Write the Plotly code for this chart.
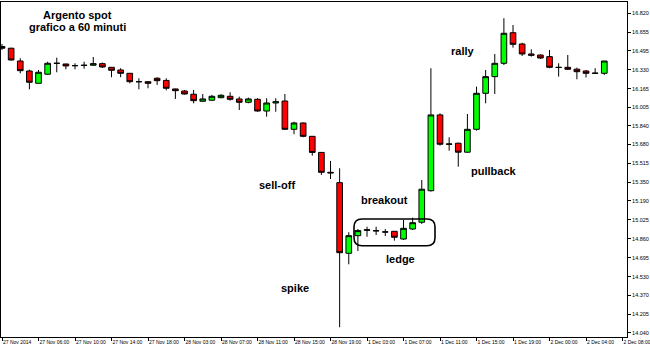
import plotly.graph_objects as go

# ---- data ----
bars = list(range(67))
opens = [16.531, 16.516, 16.405, 16.318, 16.211, 16.290, 16.385, 16.379, 16.364, 16.366,
         16.368, 16.382, 16.350, 16.327, 16.298, 16.225, 16.225, 16.255, 16.236, 16.162,
         16.144, 16.116, 16.055, 16.064, 16.086, 16.098, 16.075, 16.046, 16.072, 15.970,
         16.040, 16.057, 15.811, 15.866, 15.750, 15.610, 15.437, 15.347, 14.733, 14.886,
         14.938, 14.930, 14.919, 14.924, 14.857, 14.944, 15.003, 15.277, 15.936, 15.681,
         15.690, 15.612, 15.811, 16.124, 16.269, 16.385, 16.651, 16.553, 16.466, 16.457,
         16.443, 16.350, 16.350, 16.334, 16.318, 16.298, 16.298]
highs = [16.553, 16.521, 16.429, 16.330, 16.327, 16.399, 16.434, 16.382, 16.385, 16.399,
         16.440, 16.392, 16.353, 16.342, 16.300, 16.255, 16.228, 16.264, 16.255, 16.165,
         16.153, 16.153, 16.118, 16.110, 16.116, 16.133, 16.095, 16.086, 16.081, 16.081,
         16.081, 16.118, 15.877, 15.870, 15.752, 15.612, 15.536, 15.472, 14.916, 14.944,
         14.964, 14.964, 14.944, 14.926, 15.023, 15.043, 15.370, 16.342, 15.950, 15.742,
         15.695, 15.944, 16.182, 16.327, 16.466, 16.777, 16.718, 16.564, 16.507, 16.463,
         16.501, 16.385, 16.457, 16.347, 16.327, 16.342, 16.405]
lows = [16.501, 16.408, 16.298, 16.159, 16.211, 16.284, 16.307, 16.333, 16.333, 16.338,
        16.366, 16.344, 16.264, 16.264, 16.211, 16.159, 16.168, 16.197, 16.150, 16.075,
        16.114, 16.037, 16.051, 16.060, 16.081, 16.060, 15.979, 16.037, 15.964, 15.921,
        15.964, 15.808, 15.768, 15.742, 15.582, 15.414, 15.379, 14.090, 14.637, 14.753,
        14.877, 14.892, 14.883, 14.843, 14.850, 14.936, 14.988, 15.269, 15.669, 15.625,
        15.486, 15.608, 15.800, 16.037, 16.118, 16.370, 16.521, 16.449, 16.443, 16.423,
        16.342, 16.269, 16.327, 16.246, 16.262, 16.292, 16.284]
closes = [16.516, 16.414, 16.321, 16.220, 16.307, 16.385, 16.385, 16.362, 16.365, 16.368,
          16.382, 16.353, 16.324, 16.298, 16.225, 16.225, 16.211, 16.234, 16.168, 16.147,
          16.118, 16.060, 16.075, 16.098, 16.107, 16.072, 16.046, 16.075, 15.970, 16.040,
          16.051, 15.811, 15.866, 15.750, 15.610, 15.437, 15.432, 14.738, 14.886, 14.930,
          14.934, 14.928, 14.918, 14.872, 14.950, 14.999, 15.290, 15.936, 15.681, 15.683,
          15.612, 15.811, 16.124, 16.269, 16.385, 16.646, 16.550, 16.466, 16.455, 16.431,
          16.350, 16.349, 16.333, 16.312, 16.298, 16.299, 16.405]

x_tick_bars = [0, 4, 8, 12, 16, 20, 24, 28, 32, 36, 40, 44, 48, 52, 56, 60, 64, 68]
x_tick_labels = ["27 Nov 2014", "27 Nov 06:00", "27 Nov 10:00", "27 Nov 14:00",
                 "27 Nov 18:00", "28 Nov 03:00", "28 Nov 07:00", "28 Nov 11:00",
                 "28 Nov 15:00", "28 Nov 19:00", "1 Dec 03:00", "1 Dec 07:00",
                 "1 Dec 11:00", "1 Dec 15:00", "1 Dec 19:00", "2 Dec 00:00",
                 "2 Dec 04:00", "2 Dec 08:00"]
y_tick_values = [16.820, 16.655, 16.495, 16.330, 16.165, 16.005, 15.840, 15.680, 15.515,
                 15.350, 15.190, 15.025, 14.860, 14.695, 14.530, 14.370, 14.205, 14.040]

# ---- layout geometry ----
W, H = 650, 346
ML, MR, MT, MB = 1, 23, 2, 9
PW, PH = W - ML - MR, H - MT - MB
X_RANGE = [-0.11, 68.49]
Y_RANGE = [14.005, 16.918]


def px_x(p):
    return (p - ML) / PW


def px_y(p):
    return (H - MB - p) / PH


fig = go.Figure()
fig.add_trace(go.Candlestick(
    x=bars, open=opens, high=highs, low=lows, close=closes,
    increasing=dict(fillcolor="#00ff00", line=dict(color="black", width=1)),
    decreasing=dict(fillcolor="#ff0000", line=dict(color="black", width=1)),
    whiskerwidth=0, showlegend=False, hoverinfo="skip",
))

font_ann = dict(family="Liberation Sans, Arial, sans-serif", size=11, color="black")
texts = [
    ("<b>Argento spot</b>", 77.5, 15),
    ("<b>grafico a 60 minuti</b>", 77.5, 27),
    ("<b>sell-off</b>", 277, 185),
    ("<b>spike</b>", 295, 288),
    ("<b>breakout</b>", 384, 200),
    ("<b>ledge</b>", 400, 259),
    ("<b>pullback</b>", 494, 171),
    ("<b>rally</b>", 463, 51),
]
annotations = [dict(text=t, x=px_x(x), y=px_y(y), xref="paper", yref="paper",
                    xanchor="center", yanchor="middle", showarrow=False, font=font_ann)
               for t, x, y in texts]


def rounded_rect(x0, y0, x1, y1, r):
    def P(x, y):
        return f"{px_x(x):.5f},{px_y(y):.5f}"
    pts = [f"M {P(x0 + r, y0)}", f"L {P(x1 - r, y0)}", f"Q {P(x1, y0)} {P(x1, y0 + r)}",
           f"L {P(x1, y1 - r)}", f"Q {P(x1, y1)} {P(x1 - r, y1)}", f"L {P(x0 + r, y1)}",
           f"Q {P(x0, y1)} {P(x0, y1 - r)}", f"L {P(x0, y0 + r)}",
           f"Q {P(x0, y0)} {P(x0 + r, y0)}", "Z"]
    return " ".join(pts)


shapes = [dict(type="path", xref="paper", yref="paper",
               path=rounded_rect(354, 219, 435, 245.7, 8),
               line=dict(color="black", width=1.6))]

fig.update_layout(
    width=W, height=H,
    margin=dict(l=ML, r=MR, t=MT, b=MB, autoexpand=False),
    paper_bgcolor="white", plot_bgcolor="white",
    boxgap=0.38, boxgroupgap=0,
    annotations=annotations, shapes=shapes,
    font=dict(family="Liberation Sans, Arial, sans-serif", color="black"),
)
fig.update_xaxes(
    range=X_RANGE, tickmode="array", tickvals=x_tick_bars, ticktext=x_tick_labels,
    tickangle=0, automargin=False, ticklabeloverflow="allow",
    ticks="outside", ticklen=3, tickcolor="black", tickwidth=1,
    showline=True, linecolor="black", linewidth=1, mirror=True,
    showgrid=False, zeroline=False, ticklabelposition="outside right",
    tickfont=dict(size=5, family="Liberation Sans, Arial, sans-serif", color="black"),
    rangeslider=dict(visible=False), fixedrange=True,
)
fig.update_yaxes(
    side="right", range=Y_RANGE, tickmode="array", tickvals=y_tick_values,
    ticktext=[f"{v:.3f}" for v in y_tick_values], automargin=False,
    ticks="outside", ticklen=3, tickcolor="black", tickwidth=1,
    showline=True, linecolor="black", linewidth=1, mirror=True,
    showgrid=False, zeroline=False,
    tickfont=dict(size=5.5, family="Liberation Sans, Arial, sans-serif", color="black"),
    fixedrange=True,
)

fig.write_html("out.html", config={"displayModeBar": False})
